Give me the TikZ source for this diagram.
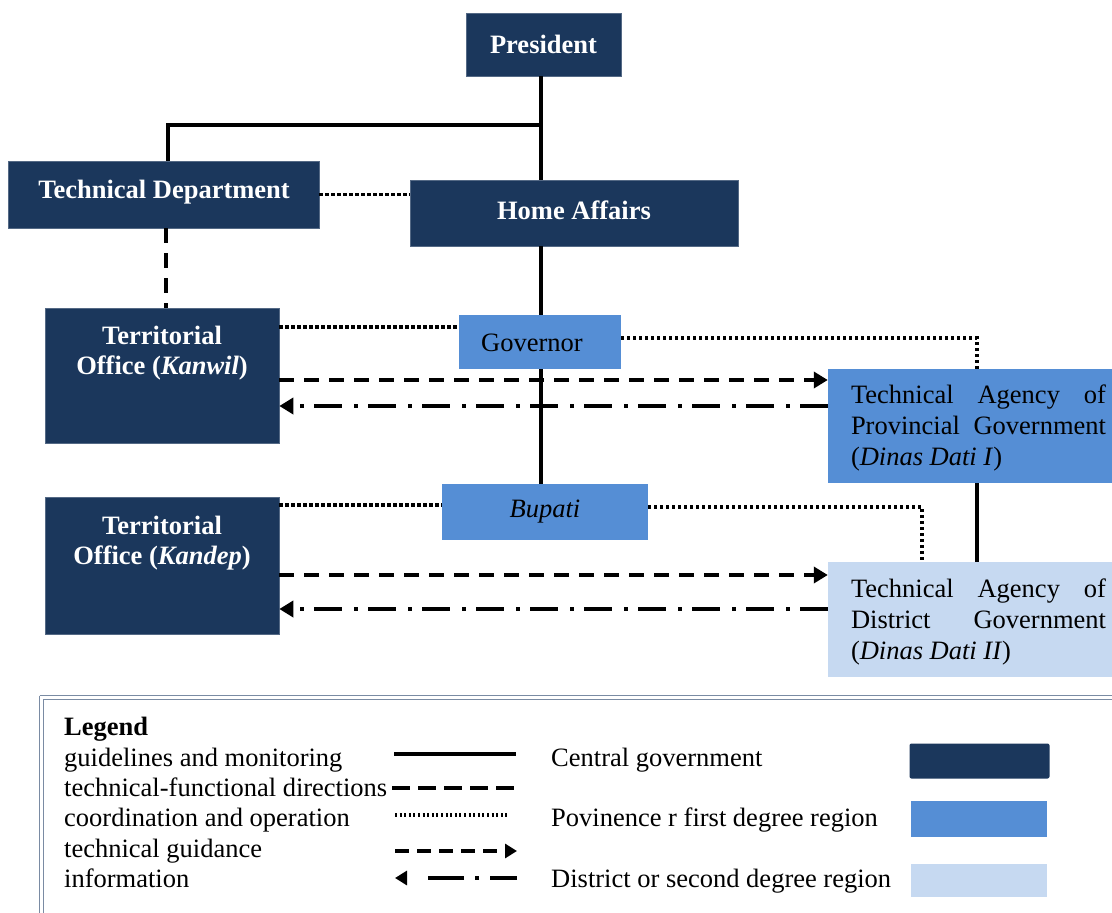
\documentclass[tikz,border=0pt]{standalone}
\usepackage{fontspec}
\setmainfont{Liberation Serif}
\usetikzlibrary{arrows.meta}
\definecolor{navy}{HTML}{1B375C}
\definecolor{midblue}{HTML}{558ED5}
\definecolor{paleblue}{HTML}{C6D9F1}
\definecolor{legendframe}{HTML}{7A8BA3}
\newcommand{\spreadline}[1]{\makebox[255pt][s]{#1}}
\begin{document}
\begin{tikzpicture}[x=1pt,y=-1pt,
  every node/.style={font=\fontsize{26.5}{31}\selectfont, inner sep=0pt},
  central/.style={fill=navy, draw=navy!75!white, line width=0.6pt},
  firstdeg/.style={fill=midblue},
  seconddeg/.style={fill=paleblue},
  whitebold/.style={text=white, font=\fontsize{26.5}{30}\selectfont\bfseries, align=center},
  guide/.style={line width=3.4pt},
  techdir/.style={line width=3.6pt, dash pattern=on 15pt off 10pt},
  coord/.style={line width=3.2pt, dash pattern=on 3.2pt off 2.8pt},
  tguide/.style={techdir, -{Triangle[length=14pt,width=16pt]}},
  info/.style={line width=3.6pt, dash pattern=on 28pt off 10pt on 4pt off 12pt, -{Triangle[length=14pt,width=16pt]}},
  legtext/.style={anchor=base west},
]
\useasboundingbox (0,0) rectangle (1112,913);

% ---------- boxes ----------
\node[central, minimum width=155pt, minimum height=63pt] (president) at (543.5,44.5) {};
\node[whitebold] (presidenttext) at (543.5,44) {President};
\node[central, minimum width=311pt, minimum height=67pt] (techdept) at (163.5,194.5) {};
\node[whitebold] (techdepttext) at (164,192) {Technical Department};
\node[central, minimum width=328pt, minimum height=66pt] (home) at (574,213) {};
\node[whitebold] (hometext) at (574,210) {Home Affairs};

\node[central, minimum width=234pt, minimum height=135pt] (kanwil) at (162,375.5) {};
\node[whitebold] (kanwiltext) at (162,353) {Territorial\\Office (\textit{Kanwil})};
\node[central, minimum width=234pt, minimum height=137pt] (kandep) at (162,565.5) {};
\node[whitebold] (kandeptext) at (162,543) {Territorial\\Office (\textit{Kandep})};

\node[firstdeg, minimum width=162pt, minimum height=54pt] (governor) at (540,342) {};
\node (governortext) at (532,343) {Governor};
\node[firstdeg, minimum width=206pt, minimum height=56pt] (bupati) at (545,512) {};
\node (bupatitext) at (545,512) {\textit{Bupati}};

\node[firstdeg, minimum width=284pt, minimum height=114pt] (taprov) at (970,426) {};
\node[align=left] (taprovtext) at (978.5,428) {\spreadline{Technical Agency of}\\\spreadline{Provincial Government}\\(\textit{Dinas Dati I})\hfill\null};
\node[seconddeg, minimum width=284pt, minimum height=115pt] (tadist) at (970,619.5) {};
\node[align=left] (tadisttext) at (978.5,622) {\spreadline{Technical Agency of}\\\spreadline{District Government}\\(\textit{Dinas Dati II})\hfill\null};

% ---------- connectors ----------
\coordinate (trunk) at (541,125);
\draw[guide] ([xshift=-2.5pt]president.south) -- ([xshift=-2.5pt]president.south |- home.north);
\draw[guide] (trunk) -| ([xshift=4.5pt]techdept.north);
\draw[coord] (techdept.east) -- (techdept.east -| home.west);
\draw[techdir] ([xshift=2.5pt]techdept.south) -- ([xshift=2.5pt]techdept.south |- kanwil.north);
\draw[guide] (home.south -| trunk) -- (governor.north -| trunk);
\draw[guide] (governor.south -| trunk) -- (bupati.north -| trunk);

\coordinate (g1) at ([yshift=15pt]governor.west);
\draw[coord] (g1 -| kanwil.east) -- (g1);
\coordinate (g2) at ([yshift=4pt]governor.east);
\draw[coord] (g2) -| ([xshift=7pt]taprov.north);
\coordinate (k1) at ([yshift=-4.5pt]kanwil.east);
\draw[tguide] (k1) -- (k1 -| taprov.west);
\coordinate (k2) at ([yshift=-30.5pt]kanwil.east);
\draw[info] (k2 -| taprov.west) -- (k2);
\draw[guide] ([xshift=7pt]taprov.south) -- ([xshift=7pt]tadist.north);

\coordinate (b1) at ([yshift=7pt]bupati.west);
\draw[coord] (b1 -| kandep.east) -- (b1);
\coordinate (b2) at ([yshift=5pt]bupati.east);
\draw[coord] (b2) -| ([xshift=-48pt]tadist.north);
\coordinate (d1) at ([yshift=-9.5pt]kandep.east);
\draw[tguide] (d1) -- (d1 -| tadist.west);
\coordinate (d2) at ([yshift=-43.5pt]kandep.east);
\draw[info] (d2 -| tadist.west) -- (d2);

% ---------- legend ----------
\draw[legendframe, line width=1pt] (39.5,695.5) -- (1130,695.5);
\draw[legendframe, line width=1pt] (39.5,695.5) -- (39.5,930);
\draw[legendframe, line width=1pt] (43.5,699) -- (1130,699);
\draw[legendframe, line width=1pt] (43.5,699) -- (43.5,930);

\node[legtext, font=\fontsize{26.5}{31}\selectfont\bfseries] (legendtitle) at (64,735) {Legend};
\node[legtext] (l1) at (64,766) {guidelines and monitoring};
\node[legtext] (l2) at (64,796) {technical-functional directions};
\node[legtext] (l3) at (64,826) {coordination and operation};
\node[legtext] (l4) at (64,857) {technical guidance};
\node[legtext] (l5) at (64,887) {information};

\coordinate (s1a) at (394,754);  \coordinate (s1b) at (516,754);
\coordinate (s2a) at (392,788);  \coordinate (s2b) at (517,788);
\coordinate (s3a) at (395,815);  \coordinate (s3b) at (509,815);
\coordinate (s4a) at (395,851);  \coordinate (s4b) at (517,851);
\coordinate (s5a) at (517,878);  \coordinate (s5b) at (395,878);
\draw[line width=3.4pt] (s1a) -- (s1b);
\draw[line width=3.6pt, dash pattern=on 18pt off 8pt] (s2a) -- (s2b);
\draw[line width=3.4pt, dash pattern=on 2pt off 2.6pt] (s3a) -- (s3b);
\draw[line width=3.6pt, dash pattern=on 14pt off 8pt, -{Triangle[length=12pt,width=14pt]}] (s4a) -- (s4b);
\draw[line width=3.6pt, dash pattern=on 27pt off 11pt on 4pt off 11pt on 36pt off 30pt, -{Triangle[length=12pt,width=14pt]}] (s5a) -- (s5b);

\node[legtext] (r1) at (551,766) {Central government};
\node[legtext] (r2) at (551,826) {Povinence r first degree region};
\node[legtext] (r3) at (551,887) {District or second degree region};

\node[fill=navy, rounded corners=2pt, minimum width=140pt, minimum height=35pt] (sw1) at (979.5,761) {};
\node[fill=midblue, minimum width=136pt, minimum height=36pt] (sw2) at (979,819) {};
\node[fill=paleblue, minimum width=136pt, minimum height=33pt] (sw3) at (979,880.5) {};
\end{tikzpicture}
\end{document}
